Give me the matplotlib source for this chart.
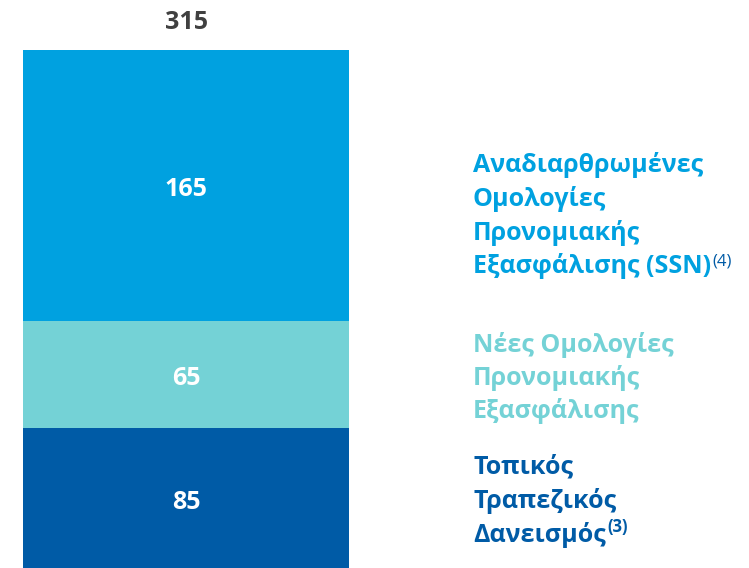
import matplotlib
matplotlib.use("Agg")
import matplotlib.pyplot as plt

# ---- data ----
segments = ["Τοπικός Τραπεζικός Δανεισμός", "Νέες Ομολογίες Προνομιακής Εξασφάλισης",
            "Αναδιαρθρωμένες Ομολογίες Προνομιακής Εξασφάλισης (SSN)"]
values = [85, 65, 165]
total = 315
colors = ["#005BA6", "#74D2D6", "#00A1E0"]
label_lines = [
    ["Τοπικός", "Τραπεζικός", "Δανεισμός"],
    ["Νέες Ομολογίες", "Προνομιακής", "Εξασφάλισης"],
    ["Αναδιαρθρωμένες", "Ομολογίες", "Προνομιακής", "Εξασφάλισης (SSN)"],
]
superscripts = ["(3)", None, "(4)"]

W, H = 749, 568
FONT = "Open Sans"
fig = plt.figure(figsize=(W / 100, H / 100), dpi=100)
ax = fig.add_axes([0, 0, 1, 1])
ax.axis("off")

bar_left_px, bar_right_px, bar_top_px = 23, 349, 50
px_per_unit_x = bar_right_px - bar_left_px
ymax = total * H / (H - bar_top_px)
ax.set_ylim(0, ymax)
ax.set_xlim(-0.5 - bar_left_px / px_per_unit_x, 0.5 + (W - bar_right_px) / px_per_unit_x)

bottom = 0
for v, c in zip(values, colors):
    ax.bar(0, v, width=1.0, bottom=bottom, color=c, edgecolor="none")
    ax.annotate(str(v), xy=(0, bottom + v / 2), xytext=(0, -3), textcoords="offset points",
                ha="center", va="center", color="white",
                fontsize=18, fontweight="bold", family=FONT)
    bottom += v

ax.annotate(str(total), xy=(0, total), xytext=(0, 20), textcoords="offset points",
            ha="center", va="center", fontsize=18, fontweight="bold",
            color="#404040", family=FONT)

# label baselines (pixels from top)
baselines = [[473, 508, 542], [352, 385, 418], [172, 206, 240, 273]]
sup_styles = [("bold", "#005BA6", 3), None, ("normal", "#005BA6", 0)]
lx = 473 / W
for lines, bls, col, sup, sst in zip(label_lines, baselines, colors, superscripts, sup_styles):
    t = None
    for line, b in zip(lines, bls):
        t = fig.text(lx, 1 - b / H, line, ha="left", va="baseline", color=col,
                     fontsize=18, fontweight="bold", family=FONT)
    if sup:
        ax.annotate(sup, xy=(1, 1), xycoords=t, xytext=(1, sst[2]), textcoords="offset points",
                    ha="left", va="top", fontsize=12, fontweight=sst[0],
                    color=sst[1], family=FONT)

fig.savefig("out.png", dpi=100)
